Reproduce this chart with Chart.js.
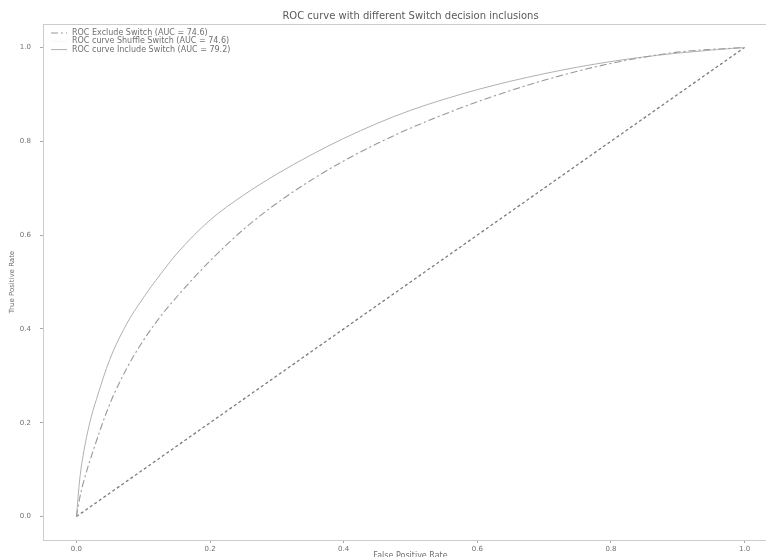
<!DOCTYPE html>
<html>
<head>
<meta charset="utf-8">
<script src="https://cdn.jsdelivr.net/npm/chart.js@4/dist/chart.umd.min.js"></script>
<style>
  html, body { margin: 0; padding: 0; background: #fff; overflow: hidden; }
  #wrap { width: 766px; height: 557px; overflow: hidden; }
</style>
</head>
<body>
<div id="wrap"><canvas id="roc" width="790" height="557"></canvas></div>
<script>
// values
var fprInclude = [0, 0.005, 0.01, 0.02, 0.03, 0.05, 0.075, 0.1, 0.125, 0.15, 0.2, 0.25, 0.3, 0.35, 0.4, 0.45, 0.5, 0.6, 0.7, 0.8, 0.9, 1.0];
var tprInclude = [0, 0.08, 0.13, 0.2, 0.25, 0.335, 0.41, 0.466, 0.515, 0.56, 0.632, 0.685, 0.73, 0.77, 0.806, 0.838, 0.866, 0.91, 0.944, 0.97, 0.988, 1.0];
var fprExclude = [0, 0.005, 0.01, 0.025, 0.05, 0.075, 0.1, 0.125, 0.15, 0.2, 0.25, 0.3, 0.35, 0.4, 0.45, 0.5, 0.6, 0.7, 0.8, 0.9, 1.0];
var tprExclude = [0, 0.04, 0.07, 0.14, 0.24, 0.315, 0.375, 0.425, 0.468, 0.545, 0.612, 0.668, 0.716, 0.758, 0.795, 0.828, 0.884, 0.93, 0.966, 0.99, 1.0];
var fprChance = [0, 1];
var tprChance = [0, 1];
var tickValues = [0, 0.2, 0.4, 0.6, 0.8, 1.0];

function pts(xs, ys) {
    return xs.map(function (x, i) { return { x: x, y: ys[i] }; });
}

var FONT = 'DejaVu Sans';
var TEXT = '#707070';

// frame, title and legend, matplotlib style
var chrome = {
    id: 'chrome',
    afterDraw: function (chart) {
        var ctx = chart.ctx, a = chart.chartArea;
        ctx.save();
        ctx.strokeStyle = '#cccccc';
        ctx.lineWidth = 1;
        ctx.setLineDash([]);
        ctx.strokeRect(a.left + 0.5, a.top + 0.5, a.right - a.left, a.bottom - a.top);

        ctx.fillStyle = '#5a5a5a';
        ctx.font = '10px ' + FONT;
        ctx.textAlign = 'center';
        ctx.textBaseline = 'middle';
        ctx.fillText('ROC curve with different Switch decision inclusions', (a.left + a.right) / 2, 16);

        ctx.font = '8px ' + FONT;
        ctx.textAlign = 'left';
        var y = a.top + 9;
        chart.data.datasets.forEach(function (ds) {
            if (!ds.label) return;
            ctx.strokeStyle = ds.borderColor;
            ctx.lineWidth = ds.borderWidth;
            ctx.setLineDash(ds.borderDash || []);
            ctx.beginPath();
            ctx.moveTo(a.left + 8, y);
            ctx.lineTo(a.left + 24, y);
            ctx.stroke();
            ctx.fillStyle = TEXT;
            ctx.fillText(ds.label, a.left + 29, y);
            y += 8.3;
        });
        ctx.restore();
    }
};

new Chart(document.getElementById('roc'), {
    type: 'line',
    data: {
        datasets: [{
            label: 'ROC Exclude Switch (AUC = 74.6)',
            data: pts(fprExclude, tprExclude),
            borderColor: '#9a9a9a',
            borderWidth: 1.1,
            borderDash: [7, 3, 2, 3]
        }, {
            label: 'ROC curve Shuffle Switch (AUC = 74.6)',
            data: pts(fprExclude, tprExclude),
            borderColor: 'rgba(235,235,235,0.35)',
            borderWidth: 1
        }, {
            label: 'ROC curve Include Switch (AUC = 79.2)',
            data: pts(fprInclude, tprInclude),
            borderColor: '#b0b0b0',
            borderWidth: 1
        }, {
            label: '',
            data: pts(fprChance, tprChance),
            borderColor: '#7c7c7c',
            borderWidth: 1.3,
            borderDash: [3, 2.5]
        }]
    },
    options: {
        responsive: false,
        animation: false,
        layout: { padding: { top: 24, left: 0, right: 12, bottom: 0 } },
        elements: {
            point: { radius: 0 },
            line: { cubicInterpolationMode: 'monotone', fill: false }
        },
        plugins: {
            legend: { display: false },
            title: { display: false },
            tooltip: { enabled: false }
        },
        scales: {
            x: {
                type: 'linear',
                min: -0.05,
                max: 1.05,
                afterBuildTicks: function (s) { s.ticks = tickValues.map(function (v) { return { value: v }; }); },
                afterFit: function (s) { s.height = 17; },
                grid: { drawOnChartArea: false, tickLength: 3, color: '#aaa' },
                border: { display: false },
                ticks: {
                    font: { family: FONT, size: 7 }, color: TEXT, padding: 2, maxRotation: 0,
                    callback: function (v) { return v.toFixed(1); }
                },
                title: {
                    display: true, text: 'False Positive Rate', color: TEXT,
                    font: { family: FONT, size: 8 }, padding: { top: 0, bottom: -4 }
                }
            },
            y: {
                type: 'linear',
                min: -0.05,
                max: 1.05,
                afterBuildTicks: function (s) { s.ticks = tickValues.map(function (v) { return { value: v }; }); },
                afterFit: function (s) { s.width = 43; },
                grid: { drawOnChartArea: false, tickLength: 3, color: '#aaa' },
                border: { display: false },
                ticks: {
                    font: { family: FONT, size: 7 }, color: TEXT, padding: 9,
                    callback: function (v) { return v.toFixed(1); }
                },
                title: {
                    display: true, text: 'True Positive Rate', color: TEXT,
                    font: { family: FONT, size: 7 }, padding: { top: 8, bottom: 0 }
                }
            }
        }
    },
    plugins: [chrome]
});
</script>
</body>
</html>
